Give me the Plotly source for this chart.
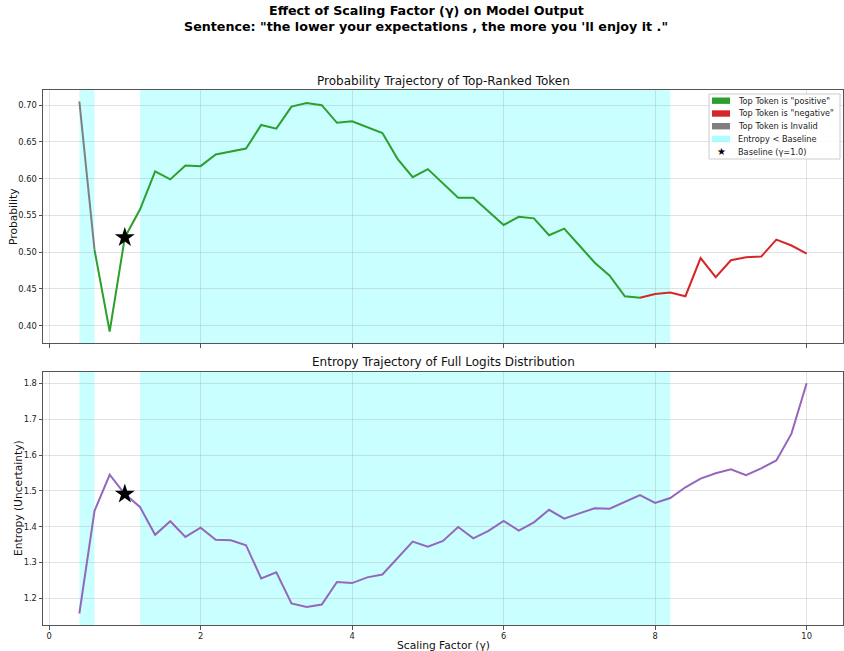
import plotly.graph_objects as go

# ---------------- data ----------------
gamma = [0.4, 0.6, 0.8, 1.0, 1.2, 1.4, 1.6, 1.8, 2.0, 2.2, 2.4, 2.6, 2.8, 3.0, 3.2, 3.4,
         3.6, 3.8, 4.0, 4.2, 4.4, 4.6, 4.8, 5.0, 5.2, 5.4, 5.6, 5.8, 6.0, 6.2, 6.4, 6.6,
         6.8, 7.0, 7.2, 7.4, 7.6, 7.8, 8.0, 8.2, 8.4, 8.6, 8.8, 9.0, 9.2, 9.4, 9.6, 9.8, 10.0]
probability = [0.705, 0.503, 0.392, 0.520, 0.558, 0.610, 0.599, 0.618, 0.617, 0.633, 0.637,
               0.641, 0.673, 0.668, 0.698, 0.703, 0.700, 0.676, 0.678, 0.670, 0.662, 0.627,
               0.602, 0.613, 0.593, 0.574, 0.574, 0.556, 0.537, 0.548, 0.546, 0.523, 0.532,
               0.509, 0.486, 0.468, 0.440, 0.438, 0.443, 0.445, 0.440, 0.492, 0.466, 0.489,
               0.493, 0.494, 0.517, 0.509, 0.498]
entropy = [1.157, 1.444, 1.545, 1.491, 1.455, 1.377, 1.415, 1.371, 1.397, 1.363, 1.362,
           1.348, 1.255, 1.272, 1.185, 1.175, 1.182, 1.245, 1.242, 1.258, 1.266, 1.312,
           1.358, 1.344, 1.360, 1.399, 1.367, 1.388, 1.416, 1.389, 1.412, 1.447, 1.422,
           1.437, 1.451, 1.450, 1.470, 1.488, 1.466, 1.480, 1.510, 1.534, 1.549, 1.560,
           1.544, 1.563, 1.585, 1.660, 1.801]
top_token = ["invalid"] + ["positive"] * 36 + ["negative"] * 12
baseline_gamma = 1.0

colors = {"positive": "#2ca02c", "negative": "#d62728", "invalid": "#7f7f7f"}
span_color = "rgba(0,255,255,0.21)"
span_legend_color = "rgba(0,255,255,0.32)"
legend_labels = ['Top Token is "positive"', 'Top Token is "negative"',
                 "Top Token is Invalid", "Entropy < Baseline", "Baseline (γ=1.0)"]
legend_colors = [colors["positive"], colors["negative"], colors["invalid"], span_legend_color, None]
title_lines = ["Effect of Scaling Factor (γ) on Model Output",
               "Sentence: \"the lower your expectations , the more you 'll enjoy it .\""]
FONT = "DejaVu Sans"

# plot-area geometry in pixels (figure 844 x 651)
L, R, T, B = 43, 843, 90, 625
def px_x(px):
    return (px - L) / (R - L)
def px_y(py):
    return (B - py) / (B - T)

# ---------------- figure ----------------
fig = go.Figure()

# probability line, coloured by top-token category (segment i->i+1 uses category of i)
n = len(gamma)
runs = []
start = 0
for i in range(1, n - 1):
    if top_token[i] != top_token[start]:
        runs.append((start, i))
        start = i
runs.append((start, n - 1))
for s, e in runs:
    cat = top_token[s]
    fig.add_trace(go.Scatter(x=gamma[s:e + 1], y=probability[s:e + 1], mode="lines",
                             line=dict(color=colors[cat], width=2),
                             showlegend=False, hoverinfo="skip", xaxis="x", yaxis="y"))

bi = gamma.index(baseline_gamma)
base_entropy = entropy[bi]

fig.add_trace(go.Scatter(x=[gamma[bi]], y=[probability[bi]], mode="markers",
                         marker=dict(symbol="star", size=15, color="black"),
                         showlegend=False, xaxis="x", yaxis="y"))

# entropy line
fig.add_trace(go.Scatter(x=gamma, y=entropy, mode="lines",
                         line=dict(color="#9467bd", width=2),
                         showlegend=False, xaxis="x2", yaxis="y2"))
fig.add_trace(go.Scatter(x=[gamma[bi]], y=[entropy[bi]], mode="markers",
                         marker=dict(symbol="star", size=15, color="black"),
                         showlegend=False, xaxis="x2", yaxis="y2"))

# shaded regions: contiguous runs where entropy < baseline entropy
shapes = []
i = 0
while i < n:
    if entropy[i] < base_entropy:
        j = i
        while j + 1 < n and entropy[j + 1] < base_entropy:
            j += 1
        for xr_, yr_ in [("x", "y domain"), ("x2", "y2 domain")]:
            shapes.append(dict(type="rect", xref=xr_, yref=yr_, x0=gamma[i], x1=gamma[j],
                               y0=0, y1=1, fillcolor=span_color,
                               line=dict(width=0), layer="below"))
        i = j + 1
    else:
        i += 1

# manual legend (matplotlib-like compact box)
annotations = []
shapes.append(dict(type="rect", xref="paper", yref="paper",
                   x0=px_x(709), x1=px_x(840), y0=px_y(159), y1=px_y(94),
                   fillcolor="rgba(255,255,255,0.85)", line=dict(color="#cccccc", width=1),
                   layer="above"))
row_y = [100.7, 113.5, 126.2, 139.0, 151.7]
for k, (lab, col) in enumerate(zip(legend_labels, legend_colors)):
    yc = row_y[k]
    if col is not None:
        shapes.append(dict(type="rect", xref="paper", yref="paper",
                           x0=px_x(712), x1=px_x(730), y0=px_y(yc + 3.2), y1=px_y(yc - 3.2),
                           fillcolor=col, line=dict(width=0), layer="above"))
    else:
        annotations.append(dict(text="★", xref="paper", yref="paper", x=px_x(721), y=px_y(yc),
                                xanchor="center", yanchor="middle", showarrow=False,
                                font=dict(family=FONT, size=10, color="black")))
    annotations.append(dict(text=lab, xref="paper", yref="paper", x=px_x(736), y=px_y(yc),
                            xanchor="left", yanchor="middle", showarrow=False,
                            font=dict(family=FONT, size=8.2, color="#222")))

def pad(vals, frac=0.05):
    lo, hi = min(vals), max(vals)
    m = (hi - lo) * frac
    return [lo - m, hi + m]

xr = pad(gamma)
grid = "rgba(160,160,160,0.3)"
axis_common = dict(showline=True, linecolor="#555", linewidth=1, mirror=True,
                   ticks="outside", ticklen=3.5, tickcolor="#555", showgrid=True,
                   gridcolor=grid, gridwidth=1, zeroline=False, automargin=False,
                   tickfont=dict(family=FONT, size=8.3, color="#222"))

annotations += [
    dict(text="<b>%s</b>" % title_lines[0], xref="paper", yref="paper",
         x=px_x(426), y=px_y(10.5), xanchor="center", yanchor="middle", showarrow=False,
         font=dict(family=FONT, size=12.7, color="black")),
    dict(text="<b>%s</b>" % title_lines[1], xref="paper", yref="paper",
         x=px_x(426), y=px_y(27), xanchor="center", yanchor="middle", showarrow=False,
         font=dict(family=FONT, size=12.7, color="black")),
    dict(text="Probability Trajectory of Top-Ranked Token", xref="paper", yref="paper",
         x=0.5, y=px_y(81), xanchor="center", yanchor="middle", showarrow=False,
         font=dict(family=FONT, size=12, color="#111")),
    dict(text="Entropy Trajectory of Full Logits Distribution", xref="paper", yref="paper",
         x=0.5, y=px_y(362), xanchor="center", yanchor="middle", showarrow=False,
         font=dict(family=FONT, size=12, color="#111")),
    dict(text="Scaling Factor (γ)", xref="paper", yref="paper",
         x=0.5, y=px_y(645), xanchor="center", yanchor="middle", showarrow=False,
         font=dict(family=FONT, size=10.7, color="#111")),
    dict(text="Probability", xref="paper", yref="paper", textangle=-90,
         x=px_x(14), y=px_y(217), xanchor="center", yanchor="middle",
         showarrow=False, font=dict(family=FONT, size=10.7, color="#111")),
    dict(text="Entropy (Uncertainty)", xref="paper", yref="paper", textangle=-90,
         x=px_x(18), y=px_y(498), xanchor="center", yanchor="middle",
         showarrow=False, font=dict(family=FONT, size=10.7, color="#111")),
]

fig.update_layout(
    width=844, height=651,
    margin=dict(l=L, r=844 - R, t=T, b=651 - B, pad=0),
    plot_bgcolor="white", paper_bgcolor="white",
    font=dict(family=FONT, color="#111"),
    showlegend=False,
    shapes=shapes,
    annotations=annotations,
    xaxis=dict(domain=[0, 1], anchor="y", range=xr, dtick=2, tick0=0,
               showticklabels=False, matches="x2", **axis_common),
    yaxis=dict(domain=[px_y(343), 1], anchor="x", range=pad(probability),
               tickvals=[0.40, 0.45, 0.50, 0.55, 0.60, 0.65, 0.70], tickformat=".2f",
               **axis_common),
    xaxis2=dict(domain=[0, 1], anchor="y2", range=xr, dtick=2, tick0=0, **axis_common),
    yaxis2=dict(domain=[0, px_y(371.7)], anchor="x2", range=pad(entropy),
                tickvals=[1.2, 1.3, 1.4, 1.5, 1.6, 1.7, 1.8], tickformat=".1f",
                **axis_common),
)

fig.write_html("out.html", config={"displayModeBar": False},
               post_script="document.body.style.margin='0';")
